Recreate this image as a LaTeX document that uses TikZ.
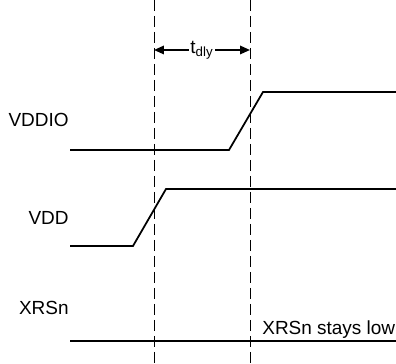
\documentclass[tikz,border=0pt]{standalone}
\usepackage{fontspec}
\setmainfont{Liberation Sans}
\usetikzlibrary{arrows.meta}
\begin{document}
\begin{tikzpicture}[x=0.02cm,y=0.02cm,
  sig/.style={line width=1pt},
  guide/.style={line width=0.55pt, dash pattern=on 0.22cm off 0.1cm},
  lbl/.style={inner sep=0pt, font=\fontsize{10.8}{13}\selectfont}]
\useasboundingbox (0,0) rectangle (396,364);
% guide lines
\coordinate (g1top) at (154,364);
\coordinate (g1bot) at (154,0);
\coordinate (g2top) at (250,364);
\coordinate (g2bot) at (250,0);
\draw[guide] (g1top) -- (g1bot);
\draw[guide] (g2top) -- (g2bot);
% delay
\coordinate (da) at (154,314);
\coordinate (db) at (250,314);
\draw[line width=1pt, {Triangle[length=0.2cm,width=0.17cm]}-{Triangle[length=0.2cm,width=0.17cm]}] (da) -- node[lbl, fill=white, inner xsep=1pt] (tdly) {t\textsubscript{dly}} (db);
% labels
\node[lbl, anchor=base east] (vddio) at (69,237) {VDDIO};
\node[lbl, anchor=base east] (vdd) at (69,139) {VDD};
\node[lbl, anchor=base east] (xrsn) at (69,49) {XRSn};
\node[lbl, anchor=base west] (low) at (262,29) {XRSn stays low};
% VDDIO
\coordinate (a0) at (70,214);
\coordinate (a1) at (229,214);
\coordinate (a2) at (263,272);
\coordinate (a3) at (396,272);
\draw[sig] (a0) -- (a1) -- (a2) -- (a3);
% VDD
\coordinate (b0) at (70,118);
\coordinate (b1) at (133,118);
\coordinate (b2) at (166,175);
\coordinate (b3) at (396,175);
\draw[sig] (b0) -- (b1) -- (b2) -- (b3);
% XRSn
\coordinate (c0) at (70,23);
\coordinate (c1) at (396,23);
\draw[sig] (c0) -- (c1);
\end{tikzpicture}
\end{document}
